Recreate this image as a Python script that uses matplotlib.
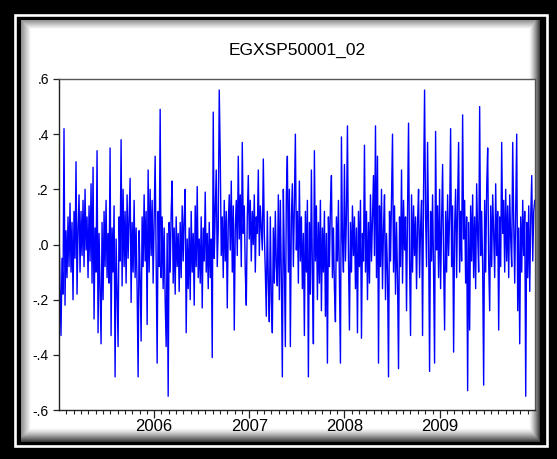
import numpy as np
import pandas as pd
import matplotlib
matplotlib.use("Agg")
import matplotlib.pyplot as plt
from matplotlib.patches import Rectangle

# series values, in hundredths
returns_x100 = [
    8, -15, -33, -5, -18, 42, -22, 5, -12, 10,
    -8, 15, -10, 8, -20, 12, -5, 30, -18, 5,
    18, -10, 12, -4, 16, -8, 20, -2, 10, -12,
    14, -6, 22, -14, 28, -27, 6, -10, 34, -32,
    4, -15, -36, 8, -20, 12, -8, 16, -12, 4,
    -14, 35, -33, 6, -10, 14, -48, 2, -18, -37,
    10, -6, 38, -15, 20, -8, 12, -14, 18, -5,
    10, 24, -21, 8, -10, 16, -12, 6, -16, -48,
    5, -12, -35, 10, -8, 18, -6, 12, -29, 27,
    -10, 20, -4, 16, -14, 8, 32, -6, -43, 12,
    -8, 49, -12, 10, -16, 6, -20, -37, 4, -55,
    8, -10, 12, 23, -14, 6, -18, 10, -8, 4,
    -17, 8, -12, 14, -6, 10, 20, -32, 2, -16,
    6, -20, 12, -10, 4, -22, 14, -8, 21, -12,
    2, -14, 10, -23, 6, -6, 19, -10, 4, -16,
    8, -12, 2, -41, 48, -5, 12, 27, -8, 6,
    56, 32, -4, 10, -12, 16, -6, 12, -23, 8,
    18, -2, 23, -10, 14, -31, 6, 16, -4, 32,
    2, 18, -8, 37, 4, 14, -10, -22, 10, 25,
    2, 16, -6, 12, 0, 18, -10, 10, 4, 27,
    -4, 14, 6, -2, 31, 4, -10, -26, 12, -14,
    -28, 10, -20, -32, 6, -14, 12, -8, -15, 18,
    -20, 16, -12, -48, 20, -6, -37, 18, 32, -10,
    20, -37, 10, 22, -8, 14, 40, -2, 12, -14,
    23, -6, 10, -16, 4, -33, 12, -10, 16, -48,
    8, -18, 27, -10, -36, 34, -6, 14, -20, 8,
    -14, 16, -24, 6, -10, 12, -26, 4, -43, 10,
    -8, 14, 25, -12, 6, -16, -28, 10, -6, 16,
    -12, -43, 39, 2, -10, 29, -6, 10, 43, -4,
    -31, 8, -10, 14, -4, 10, -16, 6, -32, 12,
    -8, 16, -34, 4, -6, 36, -10, 12, -20, 8,
    -14, 18, -6, 10, 25, -4, 43, -12, 32, -43,
    14, -8, 20, -16, 6, 18, -20, 4, -10, -48,
    12, -6, 16, 40, -10, 14, -18, 8, -12, -45,
    10, -8, 27, -14, 16, -2, 10, -24, 12, 44,
    -6, -33, 18, -10, 14, -4, 10, -16, 8, 20,
    -12, 6, 16, -33, 20, 56, 10, -8, 37, 4,
    -46, 12, -6, 18, -10, -43, 41, -2, 14, -12,
    20, -16, 8, 29, -6, -31, 12, -10, 18, -4,
    10, 42, -8, 14, -39, 6, 20, -12, 16, 37,
    -10, 12, -6, 47, 2, 16, -14, 10, -53, 8,
    -31, 14, -6, 18, -12, 10, -16, 22, 4, -10,
    50, -4, 12, -8, -51, 16, -10, 20, 35, -6,
    -24, 14, -8, 18, 4, -12, 22, -4, 12, -31,
    10, -8, 37, 4, 16, -10, 20, -6, 14, -12,
    18, 2, -8, 37, 8, -14, 12, 40, -24, 6,
    -36, 10, -10, 16, -4, 12, -55, 8, -12, 14,
    -17, 10, 25, -6, 12, 16,
]
start_date = "2005-01-01"
end_date = "2009-12-31"
year_labels = ["2006", "2007", "2008", "2009"]
y_ticks = [-0.6, -0.4, -0.2, 0.0, 0.2, 0.4, 0.6]
y_labels = ["-.6", "-.4", "-.2", ".0", ".2", ".4", ".6"]
title = "EGXSP50001_02"

values = np.array(returns_x100) / 100.0
dates = pd.date_range(start_date, end_date, periods=len(values))

plt.rcParams["font.family"] = ["Liberation Sans", "DejaVu Sans"]

W, H = 557, 459
fig = plt.figure(figsize=(W / 100, H / 100), dpi=100)
fig.patch.set_facecolor("black")

def fx(px):
    return px / W

def fy(py):
    return 1 - py / H

# thin white line inside the black frame
fig.patches.append(Rectangle((fx(14.7), fy(445.5)), fx(546.5) - fx(14.7), fy(14.7) - fy(445.5),
                             transform=fig.transFigure, fill=False, edgecolor="white",
                             linewidth=1.9))

# white panel with a soft grey inner shadow
pl, pr, pt, pb = 21, 540, 20, 442
bg = fig.add_axes([fx(pl), fy(pb), fx(pr) - fx(pl), fy(pt) - fy(pb)])
pw, ph = pr - pl, pb - pt
xx, yy = np.meshgrid(np.arange(pw) + 0.5, np.arange(ph) + 0.5)
shade = np.maximum.reduce([
    0.45 * np.clip(1 - xx / 10, 0, 1),
    0.45 * np.clip(1 - yy / 9, 0, 1),
    0.8 * np.clip(1 - (pw - xx) / 11, 0, 1) ** 1.3,
    0.8 * np.clip(1 - (ph - yy) / 14, 0, 1) ** 1.3,
])
bg.imshow(1 - shade, cmap="gray", vmin=0, vmax=1, aspect="auto", interpolation="bilinear")
bg.axis("off")

ax = fig.add_axes([fx(59), fy(410), fx(535) - fx(59), fy(79) - fy(410)])
ax.set_facecolor("white")
ax.plot(dates, values, color="#0000ff", linewidth=1.0)

ax.set_xlim(pd.Timestamp("2005-01-01"), pd.Timestamp("2010-01-01"))
ax.set_ylim(-0.6, 0.6)

ax.set_xticks([pd.Timestamp(y + "-01-01") for y in year_labels])
ax.set_xticklabels(year_labels, fontsize=12)
minor = []
for yr in range(2005, 2010):
    y0 = pd.Timestamp(f"{yr}-01-01")
    y1 = pd.Timestamp(f"{yr + 1}-01-01")
    for k in range(1, 13):
        minor.append(y0 + (y1 - y0) * k / 13)
ax.set_xticks(minor, minor=True)
ax.tick_params(axis="x", which="major", length=5.8, width=0.9, pad=1, colors="#222222")
ax.tick_params(axis="x", which="minor", length=2.9, width=0.8, colors="#222222")

ax.set_yticks(y_ticks)
ax.set_yticklabels(y_labels, fontsize=10)
ax.tick_params(axis="y", length=4.3, width=0.9, pad=3, colors="#222222")
for lab in ax.get_xticklabels() + ax.get_yticklabels():
    lab.set_color("black")

for side in ["left", "bottom"]:
    ax.spines[side].set_color("#222222")
    ax.spines[side].set_linewidth(1.0)
for side in ["top", "right"]:
    ax.spines[side].set_color("#555555")
    ax.spines[side].set_linewidth(1.0)

ax.set_title(title, fontsize=12.5, pad=17.5)

fig.savefig("out.png", dpi=100, facecolor=fig.get_facecolor())
